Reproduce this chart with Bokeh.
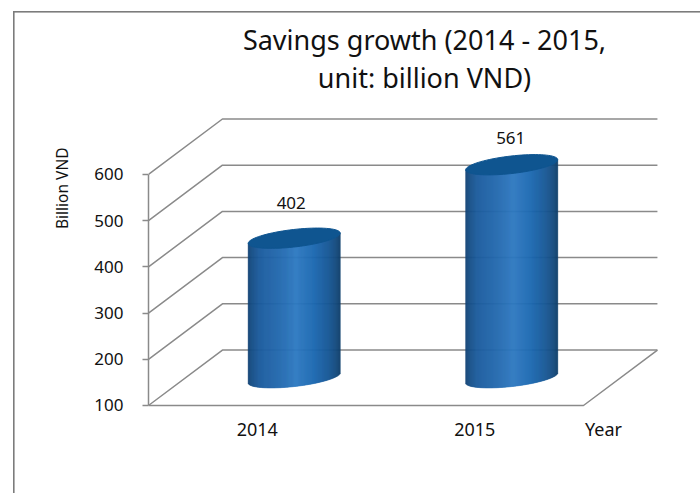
import numpy as np
from bokeh.core.properties import value
from bokeh.embed import file_html
from bokeh.resources import INLINE
from bokeh.plotting import figure
from bokeh.models import (Range1d, FixedTicker, ColumnDataSource, Title)

years = ["2014", "2015"]
savings = [402, 561]
y_ticks = [100, 200, 300, 400, 500, 600]
title_lines = ["Savings growth (2014 - 2015,", "unit: billion VND)"]
x_axis_name = "Year"
font = "Noto Sans"
GRID = "#8a8a8a"
TXT = "#111111"
FRAME = "#7c7c7c"

DX, DY = 0.34, 120      # depth of the box, in axis units
HALF = 0.2115           # half width of a cylinder
TILT, MINOR = 11, 19    # ellipse shape, in value units
slots = [i + 0.5 for i in range(len(years))]
name_slot = 2.092

p = figure(width=700, height=493, output_backend="svg", toolbar_location=None,
           x_range=Range1d(0, 2.538), y_range=Range1d(95.67, 760),
           min_border_left=148, min_border_right=0, min_border_top=100, min_border_bottom=86)
p.grid.visible = False
p.outline_line_color = None
p.background_fill_color = None
p.border_fill_color = None
# picture frame: two thin lines painted behind the transparent canvas
p.styles = {
    "background-color": "white",
    "background-image": f"linear-gradient({FRAME},{FRAME}), linear-gradient({FRAME},{FRAME})",
    "background-size": "1.6px 100%, 100% 1.6px",
    "background-position": "13px 11px, 13px 11px",
    "background-repeat": "no-repeat",
}

p.add_layout(Title(text=title_lines[1], align="center", text_font=font, text_font_size="27px",
                   text_font_style="normal", text_color=TXT, standoff=10, text_line_height=1.0), "above")
p.add_layout(Title(text=title_lines[0], align="center", text_font=font, text_font_size="27px",
                   text_font_style="normal", text_color=TXT, standoff=-12, text_line_height=1.0), "above")
p.add_layout(Title(text="Billion VND", align="right", offset=47, text_font=font, text_font_size="15.5px",
                   text_font_style="normal", text_color=TXT, standoff=37), "left")

# axes
ax = p.yaxis[0]
ax.ticker = FixedTicker(ticks=y_ticks)
ax.bounds = (y_ticks[0], y_ticks[-1])
ax.axis_line_color = GRID
ax.axis_line_width = 1.5
ax.major_tick_line_color = GRID
ax.major_tick_line_width = 1.5
ax.major_tick_in = 0
ax.major_tick_out = 6
ax.minor_tick_line_color = None
ax.major_label_standoff = 19
ax.major_label_text_font = font
ax.major_label_text_font_size = "17px"
ax.major_label_text_color = TXT

bx = p.xaxis[0]
bx.ticker = FixedTicker(ticks=slots + [name_slot])
bx.major_label_overrides = {**{s: y for s, y in zip(slots, years)}, name_slot: x_axis_name}
bx.axis_line_color = None
bx.major_tick_line_color = None
bx.minor_tick_line_color = None
bx.major_tick_in = 0
bx.major_tick_out = 0
bx.major_label_standoff = 9
bx.major_label_text_font = font
bx.major_label_text_font_size = "18px"
bx.major_label_text_color = TXT

# walls: slanted side lines, back lines and the floor
xs, ys = [], []
for t in y_ticks:
    xs.append([0, DX, len(years) + DX])
    ys.append([t, t + DY, t + DY])
xs.append([0, len(years), len(years) + DX])
ys.append([y_ticks[0], y_ticks[0], y_ticks[0] + DY])
p.multi_line(xs, ys, line_color=GRID, line_width=1.5)

# cylinders
stops = [-1.0, -0.93, -0.75, -0.25, 0.05, 0.45, 0.75, 0.93, 1.0]
reds = [18, 22, 28, 38, 47, 28, 24, 20, 15]
greens = [66, 78, 92, 108, 122, 104, 88, 74, 62]
blues = [116, 132, 158, 178, 194, 176, 150, 124, 106]
N = 92
edges = np.linspace(-1, 1, N + 1)
mids = (edges[:-1] + edges[1:]) / 2
colors = ["#%02x%02x%02x" % (int(np.interp(u, stops, reds)), int(np.interp(u, stops, greens)),
                             int(np.interp(u, stops, blues))) for u in mids]
ts = np.linspace(0, 2 * np.pi, 80)
for slot, v in zip(slots, savings):
    cx = slot + DX / 2
    base = y_ticks[0] + DY / 2
    top = v + DY / 2
    lower = base + TILT * mids - MINOR * np.sqrt(1 - mids ** 2)
    p.quad(left=cx + HALF * edges[:-1], right=cx + HALF * edges[1:], bottom=lower,
           top=top + TILT * mids, fill_color=colors, line_color=colors, line_width=0.6)
    p.patch(cx + HALF * np.cos(ts), top + TILT * np.cos(ts) + MINOR * np.sin(ts),
            fill_color="#0f5590", line_color="#0f5590", line_width=1)

src = ColumnDataSource(dict(x=[s + DX / 2 for s in slots], y=[v + DY / 2 for v in savings],
                            t=[str(v) for v in savings], dy=[-35, -27], dx=[-3, -1]))
p.text("x", "y", "t", source=src, text_font=value(font), text_font_size="17px", text_color=TXT,
       text_align="center", text_baseline="middle", y_offset="dy", x_offset="dx")

open("out.html", "w").write(file_html(p, INLINE))
